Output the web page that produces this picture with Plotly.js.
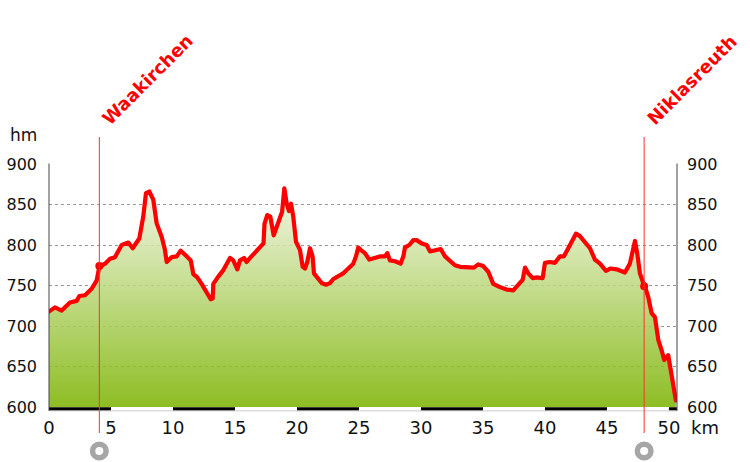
<!DOCTYPE html>
<html>
<head>
<meta charset="utf-8">
<script src="https://cdn.plot.ly/plotly-3.0.1.min.js"></script>
<style>
html,body{margin:0;padding:0;background:#fff;}
#chart{width:750px;height:462px;}
.js-line{stroke-linejoin:round;stroke-linecap:round;}
</style>
</head>
<body>
<div id="chart"></div>
<script>
// Distance (km) and elevation (m) of the profile
const distKm = [0.0,0.48,1.02,1.69,2.23,2.45,2.9,3.44,3.84,4.06,4.52,4.92,5.32,5.59,5.86,6.4,6.75,7.28,7.6,7.82,8.09,8.41,8.68,9.09,9.35,9.49,9.89,10.3,10.62,11.1,11.43,11.64,11.96,12.31,12.72,13.04,13.2,13.25,13.65,14.06,14.6,14.86,15.19,15.4,15.73,15.94,16.27,16.75,17.1,17.3,17.38,17.6,17.85,18.12,18.45,18.8,18.98,19.17,19.35,19.52,19.7,19.92,20.24,20.46,20.65,20.83,21.05,21.26,21.37,21.72,21.99,22.34,22.66,22.93,23.33,23.73,24.14,24.54,24.76,24.94,25.14,25.48,25.83,26.29,26.75,27.1,27.28,27.5,27.9,28.36,28.58,28.71,29.06,29.38,29.65,30.06,30.46,30.73,31.21,31.59,31.94,32.34,32.74,33.15,33.68,34.27,34.62,35.02,35.43,35.83,36.37,36.91,37.44,37.85,38.2,38.39,38.66,39.01,39.33,39.81,40.0,40.4,40.81,41.21,41.53,41.88,42.28,42.5,42.82,43.23,43.63,44.03,44.44,44.92,45.3,45.78,46.45,46.85,47.07,47.26,47.44,47.66,47.88,48.06,48.33,48.6,48.87,49.14,49.41,49.62,49.94,50.22,50.56];
const elevM = [718,723,719,729,731,737,738,746,756,773,777,783,785,792,800,803,796,808,835,864,866,856,827,810,794,779,785,786,793,786,781,764,760,752,742,733,734,752,761,769,784,781,770,781,784,779,785,793,800,802,826,837,835,812,826,841,870,851,842,851,835,804,794,773,771,779,796,786,765,759,753,751,753,758,762,765,771,777,786,797,794,790,782,784,786,786,790,781,780,777,786,797,800,806,806,802,800,792,793,795,786,781,775,773,772,772,776,774,767,752,748,745,744,751,757,772,765,759,760,759,778,779,778,786,786,796,807,814,811,804,796,782,777,768,771,770,766,777,794,805,790,765,755,749,736,716,711,683,670,658,664,637,608];

// Waypoints
const wpNames = ["Waakirchen", "Niklasreuth"];
const wpKm = [4.06, 48.0];
const wpElev = [774, 749];

// Axis ticks
const xTicks = [0,5,10,15,20,25,30,35,40,45,50];
const yTicks = [600,650,700,750,800,850,900];
const xMax = 50.65;

const FONT = "DejaVu Sans, Verdana, sans-serif";

const traces = [
  {
    x: distKm, y: elevM, type: "scatter", mode: "lines",
    fill: "tozeroy",
    fillgradient: {
      type: "vertical", start: 600, stop: 880,
      colorscale: [[0, "rgba(123,179,0,0.86)"], [1, "rgba(245,248,235,0.86)"]]
    },
    line: {color: "#ff0000", width: 4.2},
    hoverinfo: "skip", showlegend: false
  },
  {
    x: wpKm, y: wpElev, type: "scatter", mode: "markers",
    marker: {color: "#ff0000", size: 8},
    hoverinfo: "skip", showlegend: false
  },
  {
    x: [0], y: [600], yaxis: "y2", type: "scatter", mode: "markers",
    marker: {opacity: 0}, hoverinfo: "skip", showlegend: false
  }
];

const shapes = [];
// alternating km scale bar
for (let s = 0; s < xMax; s += 10) {
  shapes.push({type: "rect", xref: "x", yref: "paper", x0: s, x1: Math.min(s + 5, xMax),
    y0: -0.015, y1: -0.001, fillcolor: "#000", line: {width: 0}, layer: "above"});
}
// thin baseline
shapes.push({type: "line", xref: "paper", yref: "paper", x0: 0, x1: 1, y0: -0.016, y1: -0.016,
  line: {color: "#cccccc", width: 1}, layer: "above"});
// left and right axis lines
shapes.push({type: "line", xref: "paper", yref: "paper", x0: 0, x1: 0, y0: -0.016, y1: 1.002,
  line: {color: "#444", width: 1}, layer: "above"});
shapes.push({type: "line", xref: "paper", yref: "paper", x0: 1, x1: 1, y0: -0.016, y1: 1.002,
  line: {color: "#444", width: 1}, layer: "above"});
// waypoint lines and circles
wpKm.forEach(k => {
  shapes.push({type: "line", xref: "x", yref: "paper", x0: k, x1: k, y0: -0.107, y1: 1.111,
    line: {color: "#ff3030", width: 1}, layer: "above"});
  shapes.push({type: "circle", xref: "x", yref: "paper", xsizemode: "pixel", ysizemode: "pixel",
    xanchor: k, yanchor: -0.181, x0: -6.8, x1: 6.8, y0: -6.8, y1: 6.8,
    fillcolor: "#fff", line: {color: "#a6a6a6", width: 5.5}, layer: "above"});
});

const annotations = wpNames.map((n, i) => ({
  text: "<b>" + n + "</b>", x: wpKm[i], xref: "x", xshift: 48, y: 1.3477, yref: "paper",
  textangle: -45, showarrow: false, xanchor: "center", yanchor: "middle",
  font: {family: FONT, size: 18, color: "#ff0000"}
}));
annotations.push({text: "hm", xref: "paper", yref: "paper", x: -0.0653, y: 1.119,
  xanchor: "left", yanchor: "middle", showarrow: false, font: {family: FONT, size: 17, color: "#111"}});
annotations.push({text: "km", xref: "paper", yref: "paper", x: 1.019, y: -0.0864,
  xanchor: "left", yanchor: "middle", showarrow: false, font: {family: FONT, size: 18, color: "#111"}});

const layout = {
  width: 750, height: 462,
  margin: {l: 49, r: 73, t: 164, b: 55},
  paper_bgcolor: "#fff", plot_bgcolor: "#fff",
  font: {family: FONT, color: "#111"},
  showlegend: false,
  xaxis: {
    range: [0, xMax], tickvals: xTicks, ticktext: xTicks.map(String),
    showgrid: false, zeroline: false, showline: false, ticks: "",
    ticklabelstandoff: 8,
    tickfont: {family: FONT, size: 18, color: "#111"}
  },
  yaxis: {
    range: [600, 900], tickvals: yTicks, ticktext: yTicks.map(String),
    showgrid: true, gridcolor: "#999", griddash: "dot", gridwidth: 1,
    zeroline: false, showline: false, ticks: "", ticklabelstandoff: 11,
    tickfont: {family: FONT, size: 16, color: "#111"}
  },
  yaxis2: {
    overlaying: "y", side: "right", range: [600, 900], tickvals: yTicks, ticktext: yTicks.map(String),
    showgrid: false, zeroline: false, showline: false, ticks: "", ticklabelstandoff: 9,
    tickfont: {family: FONT, size: 16, color: "#111"}
  },
  shapes: shapes,
  annotations: annotations
};

Plotly.newPlot("chart", traces, layout, {staticPlot: true, displayModeBar: false});
</script>
</body>
</html>
